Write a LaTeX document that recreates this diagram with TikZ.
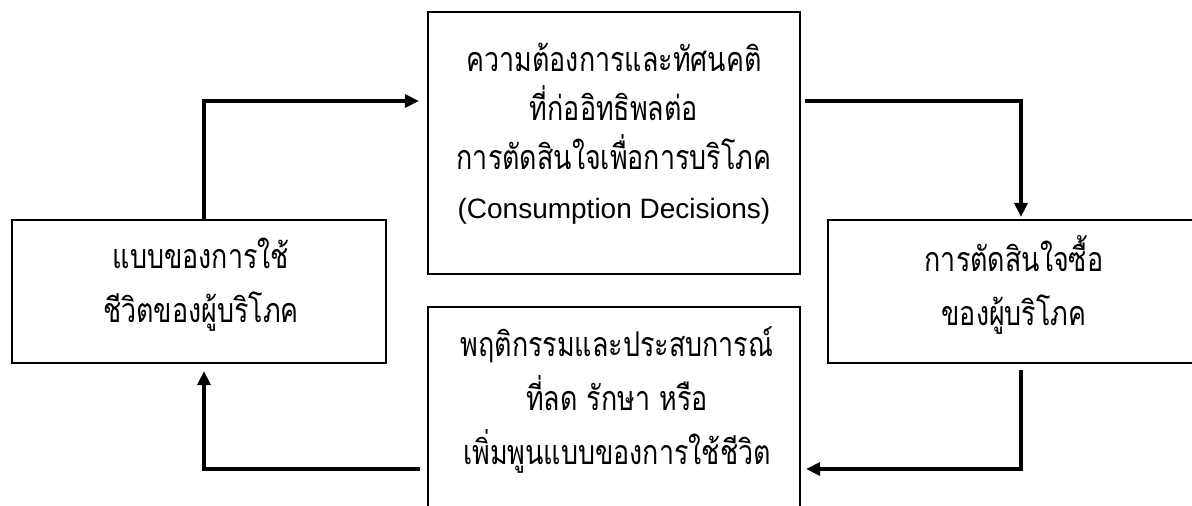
\documentclass[tikz,border=0pt]{standalone}
\usepackage{fontspec}
\setmainfont{Liberation Sans}
\newfontfamily\thai[Script=Thai,FakeStretch=0.79]{Loma}
\usetikzlibrary{arrows.meta}
\begin{document}
\begin{tikzpicture}[x=1pt,y=-1pt,
  box/.style={draw, line width=2.2pt, inner sep=0pt, rectangle},
  txt/.style={align=center, inner sep=0pt},
  conn/.style={line width=3.2pt, -{Triangle[length=14pt,width=13pt]}}]
\useasboundingbox (0,0) rectangle (1192,506);
\clip (0,0) rectangle (1192,506);
% boxes
\node[box, minimum width=372pt, minimum height=262pt] (top) at (614,143) {};
\node[box, minimum width=374pt, minimum height=143pt] (left) at (199,291.5) {};
\node[box, minimum width=380pt, minimum height=143pt] (right) at (1018,291.5) {};
\node[box, minimum width=372pt, minimum height=213pt] (bottom) at (614,413.5) {};
% texts
\node[txt, font=\fontsize{28}{49}\selectfont] (toptext) at (614,134)
  {{\thai\fontsize{34}{49}\selectfont ความต้องการและทัศนคติ}\\{\thai\fontsize{34}{49}\selectfont ที่ก่ออิทธิพลต่อ}\\{\thai\fontsize{34}{49}\selectfont การตัดสินใจเพื่อการบริโภค}\\(Consumption Decisions)};
\node[txt, font=\thai\fontsize{34}{54}\selectfont] (lefttext) at (201,285)
  {แบบของการใช้\\ชีวิตของผู้บริโภค};
\node[txt, font=\thai\fontsize{34}{54}\selectfont] (righttext) at (1014,285)
  {การตัดสินใจซื้อ\\ของผู้บริโภค};
\node[txt, font=\thai\fontsize{34}{54}\selectfont] (bottomtext) at (617,400)
  {พฤติกรรมและประสบการณ์\\ที่ลด รักษา หรือ\\เพิ่มพูนแบบของการใช้ชีวิต};
% connectors
\coordinate (j1) at (204,101);
\coordinate (j2) at (1021,101);
\coordinate (j3) at (1021,469);
\coordinate (j4) at (204,469);
\draw[conn, shorten >=8pt] (left.north -| j1) |- (top.west |- j1);
\draw[conn, shorten <=4pt, shorten >=2pt] (top.east |- j2) -| (right.north -| j2);
\draw[conn, shorten <=6pt, shorten >=5pt] (right.south -| j3) |- (bottom.east |- j3);
\draw[conn, shorten <=7pt, shorten >=7pt] (bottom.west |- j4) -| (left.south -| j4);
\end{tikzpicture}
\end{document}
